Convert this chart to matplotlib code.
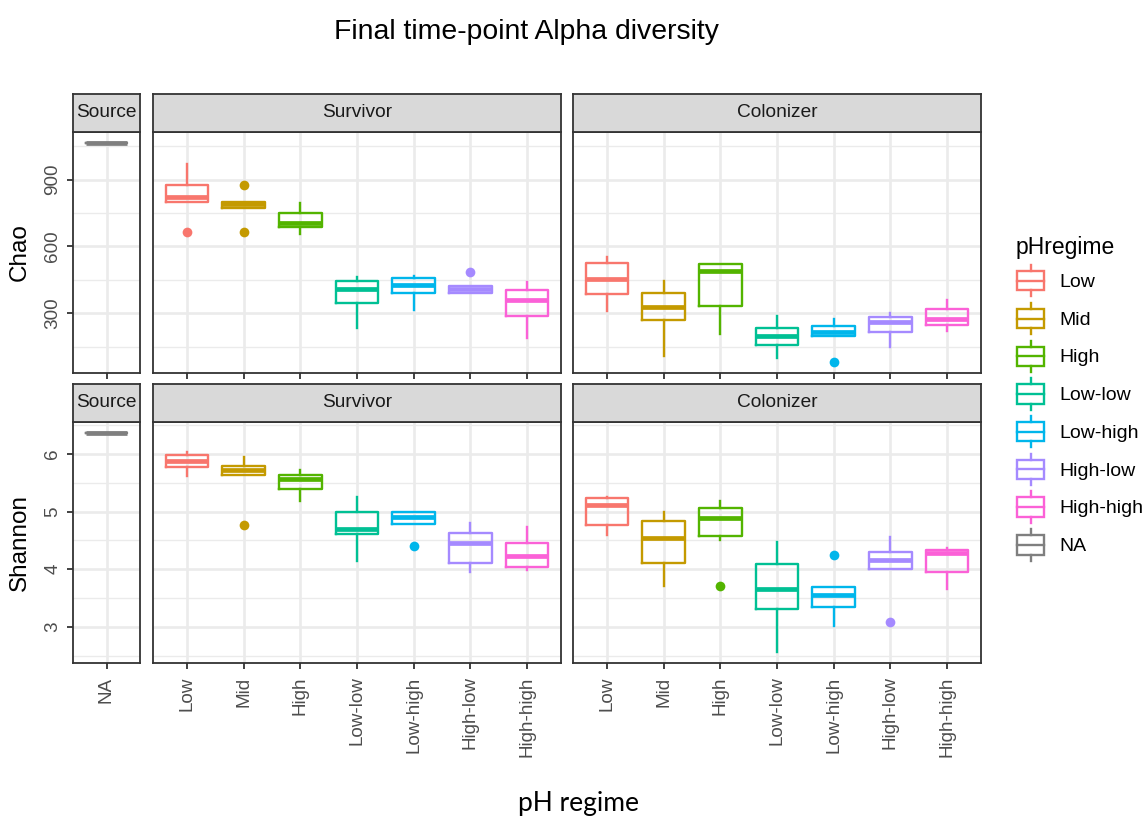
import matplotlib
matplotlib.use("Agg")
import matplotlib.pyplot as plt
from matplotlib.lines import Line2D
from matplotlib.patches import Rectangle
from matplotlib.legend_handler import HandlerBase

plt.rcParams['font.family'] = ['Liberation Sans', 'DejaVu Sans']

# ---- data ----
regimes = ["Low", "Mid", "High", "Low-low", "Low-high", "High-low", "High-high"]
colors = ["#F8766D", "#C49A00", "#53B400", "#00C094", "#00B6EB", "#A58AFF", "#FB61D7"]
na_color = "#7F7F7F"

# each box: (lower whisker, q1, median, q3, upper whisker)
chao_source = [(1066, 1066, 1066, 1066, 1066)]
chao_survivor = [
    (800, 800, 820, 875, 971),
    (775, 775, 789, 800, 800),
    (656, 689, 707, 750, 796),
    (236, 345, 411, 444, 462),
    (313, 392, 426, 457, 466),
    (389, 389, 411, 422, 422),
    (189, 288, 362, 405, 441),
]
chao_survivor_out = [[665], [878, 665], [], [], [], [487], []]
chao_colonizer = [
    (310, 385, 452, 526, 552),
    (110, 270, 330, 392, 447),
    (209, 333, 489, 523, 523),
    (98, 157, 196, 236, 288),
    (199, 199, 217, 244, 273),
    (151, 215, 262, 285, 300),
    (221, 247, 273, 318, 362),
]
chao_colonizer_out = [[], [], [], [], [80], [], []]

shannon_source = [(6.37, 6.37, 6.37, 6.37, 6.37)]
shannon_survivor = [
    (5.62, 5.77, 5.88, 5.99, 6.03),
    (5.63, 5.63, 5.72, 5.79, 5.94),
    (5.19, 5.39, 5.56, 5.63, 5.72),
    (4.15, 4.61, 4.70, 5.00, 5.26),
    (4.79, 4.79, 4.91, 5.00, 5.00),
    (3.96, 4.11, 4.45, 4.63, 4.80),
    (3.99, 4.04, 4.23, 4.46, 4.74),
]
shannon_survivor_out = [[], [4.76], [], [], [4.41], [], []]
shannon_colonizer = [
    (4.59, 4.77, 5.11, 5.23, 5.26),
    (3.71, 4.11, 4.54, 4.84, 4.99),
    (4.50, 4.57, 4.89, 5.06, 5.19),
    (2.56, 3.32, 3.66, 4.09, 4.47),
    (3.01, 3.35, 3.56, 3.70, 3.70),
    (4.01, 4.01, 4.16, 4.30, 4.56),
    (3.65, 3.96, 4.28, 4.34, 4.37),
]
shannon_colonizer_out = [[], [], [3.71], [], [4.24], [3.09], []]

chao_major = [300, 600, 900]
chao_minor = [150, 450, 750, 1050]
shannon_major = [3, 4, 5, 6]
shannon_minor = [2.5, 3.5, 4.5, 5.5, 6.5]

# ---- layout (pixels) ----
W, H = 1148, 817
fig = plt.figure(figsize=(W / 100, H / 100), dpi=100)

cols = [(73, 140), (153, 561), (573, 981)]
rows = [(94, 131.7, 373.3), (384, 421.7, 663.3)]
strip_names = ["Source", "Survivor", "Colonizer"]

BORDER = "#333333"
GRID = "#EBEBEB"
LW = 1.7


def px_axes(x0, y0, x1, y1):
    return fig.add_axes([x0 / W, 1 - y1 / H, (x1 - x0) / W, (y1 - y0) / H])


def to_stats(boxes, outs):
    res = []
    for b, o in zip(boxes, outs):
        res.append(dict(whislo=b[0], q1=b[1], med=b[2], q3=b[3], whishi=b[4], fliers=o))
    return res


def draw_boxes(ax, stats, cols_):
    for i, (s, c) in enumerate(zip(stats, cols_)):
        ax.bxp([s], positions=[i + 1], widths=0.75, showcaps=False,
               boxprops=dict(color=c, lw=LW),
               whiskerprops=dict(color=c, lw=LW),
               medianprops=dict(color=c, lw=3.4, solid_capstyle='butt'),
               flierprops=dict(marker='o', markerfacecolor=c, markeredgecolor='none',
                               markersize=7),
               manage_ticks=False)


def ylim_of(*groups):
    vals = []
    for boxes, outs in groups:
        for b in boxes:
            vals += list(b)
        for o in outs:
            vals += o
    lo, hi = min(vals), max(vals)
    pad = 0.05 * (hi - lo)
    return lo - pad, hi + pad


metrics = [
    ("Chao", [(chao_source, [[]]), (chao_survivor, chao_survivor_out),
              (chao_colonizer, chao_colonizer_out)], chao_major, chao_minor),
    ("Shannon", [(shannon_source, [[]]), (shannon_survivor, shannon_survivor_out),
                 (shannon_colonizer, shannon_colonizer_out)], shannon_major, shannon_minor),
]

for r, (name, groups, major, minor) in enumerate(metrics):
    s_top, p_top, p_bot = rows[r]
    ylim = ylim_of(*groups)
    for c, (x0, x1) in enumerate(cols):
        boxes, outs = groups[c]
        ax = px_axes(x0, p_top, x1, p_bot)
        n = len(boxes)
        ax.set_xlim(0.4, n + 0.6)
        ax.set_ylim(*ylim)
        ax.set_axisbelow(True)
        for v in minor:
            ax.axhline(v, color=GRID, lw=1.0, zorder=0)
        for v in major:
            ax.axhline(v, color=GRID, lw=1.9, zorder=0)
        for i in range(n):
            ax.axvline(i + 1, color=GRID, lw=1.9, zorder=0)
        box_cols = [na_color] if c == 0 else colors
        draw_boxes(ax, to_stats(boxes, outs), box_cols)

        ax.set_xticks(range(1, n + 1))
        if r == 1:
            ax.set_xticklabels(["NA"] if c == 0 else regimes, rotation=90,
                               fontsize=13.6, color="#4D4D4D")
        else:
            ax.set_xticklabels([])
        ax.set_yticks(major)
        if c == 0:
            ax.set_yticklabels([str(v) for v in major], rotation=90, va='center',
                               fontsize=13.6, color="#4D4D4D")
            ax.tick_params(axis='y', length=4.5, width=1.3, color=BORDER, pad=4)
        else:
            ax.tick_params(axis='y', left=False, labelleft=False)
        ax.tick_params(axis='x', length=4.5, width=1.3, color=BORDER, pad=5)
        for sp in ax.spines.values():
            sp.set_color(BORDER)
            sp.set_linewidth(1.3)

        # facet strip
        sax = px_axes(x0, s_top, x1, p_top)
        sax.set_facecolor("#D9D9D9")
        sax.set_xticks([])
        sax.set_yticks([])
        for sp in sax.spines.values():
            sp.set_color(BORDER)
            sp.set_linewidth(1.3)
        sax.text(0.5, 0.5, strip_names[c], ha='center', va='center',
                 fontsize=13.8, color="#1A1A1A", transform=sax.transAxes)

    fig.text(20 / W, 1 - (p_top + p_bot) / 2 / H, name, rotation=90,
             ha='center', va='center', fontsize=17.5)

fig.text(527 / W, 1 - 32 / H, "Final time-point Alpha diversity",
         ha='center', va='center', fontsize=20.4)
fig.text(578 / W, 1 - 803 / H, "pH regime", ha='center', va='center',
         fontsize=19, family=['Lato', 'DejaVu Sans'])


class BoxKey(HandlerBase):
    def create_artists(self, legend, orig_handle, xdescent, ydescent,
                       width, height, fontsize, trans):
        c = orig_handle.get_color()
        x0, y0 = -xdescent, -ydescent
        box = Rectangle((x0 + 0.05 * width, y0 + 0.19 * height), 0.9 * width,
                        0.62 * height, fill=False, ec=c, lw=LW, transform=trans)
        mid = Line2D([x0 + 0.05 * width, x0 + 0.95 * width],
                     [y0 + height / 2] * 2, color=c, lw=LW, transform=trans)
        wt = Line2D([x0 + width / 2] * 2, [y0 + 0.81 * height, y0 + height],
                    color=c, lw=LW, transform=trans)
        wb = Line2D([x0 + width / 2] * 2, [y0, y0 + 0.19 * height],
                    color=c, lw=LW, transform=trans)
        return [box, mid, wt, wb]


handles = [Line2D([], [], color=c) for c in colors + [na_color]]
leg = fig.legend(handles, regimes + ["NA"], handler_map={Line2D: BoxKey()},
                 loc='upper left', bbox_to_anchor=(1006 / W, 1 - 226 / H),
                 frameon=False, borderpad=0, fontsize=14, title="pHregime",
                 title_fontsize=16.5, handlelength=1.55, handleheight=2.1,
                 labelspacing=0.33, handletextpad=0.7, alignment='left')

fig.savefig("out.png", dpi=100, facecolor="white")
